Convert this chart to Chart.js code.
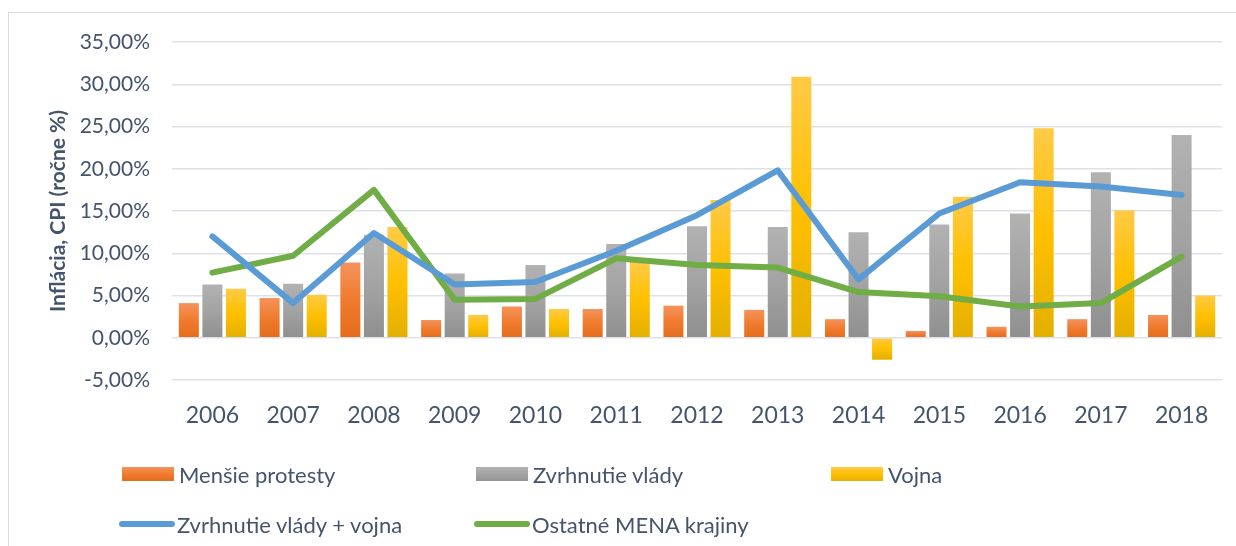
<!DOCTYPE html>
<html lang="sk">
<head>
<meta charset="utf-8">
<script src="https://cdn.jsdelivr.net/npm/chart.js@4.4.1/dist/chart.umd.min.js"></script>
<style>
    html, body { margin: 0; padding: 0; background: #fff; overflow: hidden; }
    body { width: 1236px; height: 546px; position: relative; font-family: Lato, "Open Sans", sans-serif; }
    .frame { position: absolute; left: 8px; top: 12px; width: 1260px; height: 560px; border: 1px solid #D9DDE3; box-sizing: border-box; }
    #chart { position: absolute; left: 0; top: 0; }
    .legend-item { position: absolute; display: flex; align-items: center; color: #44546A; font-size: 22px; white-space: nowrap; }
    .legend-box { width: 52px; height: 14px; margin-right: 5px; }
    .legend-line { width: 56px; height: 6px; border-radius: 3px; margin-right: 2px; }
</style>
</head>
<body>
<div class="frame"></div>
<canvas id="chart" width="1236" height="546"></canvas>
<div id="legend"></div>
<script>
// Inflation data (annual CPI %)
const years = ['2006', '2007', '2008', '2009', '2010', '2011', '2012', '2013', '2014', '2015', '2016', '2017', '2018'];
const mensieProtesty = [4.1, 4.7, 8.9, 2.1, 3.7, 3.4, 3.8, 3.3, 2.2, 0.8, 1.3, 2.2, 2.7];
const zvrhnutieVlady = [6.3, 6.4, 12.2, 7.6, 8.6, 11.1, 13.2, 13.1, 12.5, 13.4, 14.7, 19.6, 24.0];
const vojna = [5.8, 5.1, 13.1, 2.7, 3.4, 9.0, 16.3, 30.9, -2.6, 16.7, 24.8, 15.1, 5.0];
const zvrhnutieAVojna = [12.0, 4.1, 12.4, 6.3, 6.6, 10.3, 14.5, 19.8, 6.9, 14.7, 18.4, 17.9, 16.9];
const ostatneMena = [7.7, 9.7, 17.5, 4.5, 4.6, 9.4, 8.6, 8.3, 5.4, 4.9, 3.7, 4.1, 9.6];
const yTicks = [-5, 0, 5, 10, 15, 20, 25, 30, 35];

const textColor = '#44546A';
const fontFamily = 'Lato, "Open Sans", sans-serif';

// per-bar vertical gradient, like the Office fill
function barGradient(top, mid, bottom) {
    return (ctx) => {
        const chart = ctx.chart;
        const y = chart.scales && chart.scales.y;
        if (!y || !ctx.parsed || !chart.chartArea) return mid;
        const v = ctx.parsed.y;
        const y1 = y.getPixelForValue(Math.max(v, 0));
        const y2 = y.getPixelForValue(Math.min(v, 0));
        if (!isFinite(y1) || !isFinite(y2) || y1 === y2) return mid;
        const g = chart.ctx.createLinearGradient(0, y1, 0, y2);
        g.addColorStop(0, top);
        g.addColorStop(0.5, mid);
        g.addColorStop(1, bottom);
        return g;
    };
}

const legendStyles = [
    { cls: 'legend-box', css: 'linear-gradient(#F4935C, #F07B2E, #E46C1C)', left: 122, top: 475 },
    { cls: 'legend-box', css: 'linear-gradient(#B2B2B2, #A3A3A3, #939393)', left: 476, top: 475 },
    { cls: 'legend-box', css: 'linear-gradient(#FFCA47, #FFC000, #E6B000)', left: 831, top: 475 },
    { cls: 'legend-line', css: '#5B9BD5', left: 119, top: 525 },
    { cls: 'legend-line', css: '#70AD47', left: 474, top: 525 }
];

const barCommon = {
    type: 'bar',
    categoryPercentage: 0.875,
    barPercentage: 0.85,
    order: 2
};

const lineCommon = {
    type: 'line',
    borderWidth: 6,
    tension: 0,
    pointRadius: 0,
    pointHoverRadius: 0,
    borderCapStyle: 'round',
    borderJoinStyle: 'round',
    fill: false,
    order: 1
};

const chart = new Chart(document.getElementById('chart'), {
    data: {
        labels: years,
        datasets: [
            { ...barCommon, label: 'Menšie protesty', data: mensieProtesty,
              backgroundColor: barGradient('#F4935C', '#F07B2E', '#E46C1C') },
            { ...barCommon, label: 'Zvrhnutie vlády', data: zvrhnutieVlady,
              backgroundColor: barGradient('#B2B2B2', '#A3A3A3', '#8F8F8F') },
            { ...barCommon, label: 'Vojna', data: vojna,
              backgroundColor: barGradient('#FFCA47', '#FFC000', '#E3AF00') },
            { ...lineCommon, label: 'Zvrhnutie vlády + vojna', data: zvrhnutieAVojna,
              borderColor: '#5B9BD5', backgroundColor: '#5B9BD5' },
            { ...lineCommon, label: 'Ostatné MENA krajiny', data: ostatneMena,
              borderColor: '#70AD47', backgroundColor: '#70AD47' }
        ]
    },
    options: {
        responsive: false,
        animation: false,
        devicePixelRatio: 1,
        layout: {
            padding: { left: 0, top: 42, right: 14, bottom: 0 }
        },
        plugins: {
            legend: { display: false },
            tooltip: { enabled: false },
            title: { display: false }
        },
        scales: {
            x: {
                grid: { display: false, drawTicks: false },
                border: { display: false },
                ticks: {
                    color: textColor,
                    padding: 22,
                    font: { family: fontFamily, size: 23 }
                },
                afterFit: (scale) => { scale.height = 546 - 380; }
            },
            y: {
                min: -5,
                max: 35,
                afterBuildTicks: (scale) => {
                    scale.ticks = yTicks.map(v => ({ value: v }));
                },
                grid: {
                    color: '#DEE2E8',
                    lineWidth: 1.5,
                    drawTicks: false
                },
                border: { display: false },
                ticks: {
                    color: textColor,
                    padding: 22,
                    font: { family: fontFamily, size: 21 },
                    callback: (value) => value.toFixed(2).replace('.', ',') + '%'
                },
                title: {
                    display: true,
                    text: 'Inflácia, CPI (ročne %)',
                    color: textColor,
                    font: { family: fontFamily, size: 21, weight: 'bold' },
                    padding: { top: 46, bottom: 0 }
                },
                afterFit: (scale) => { scale.width = 172; }
            }
        }
    }
});

// HTML legend laid out in columns like the original
const legendEl = document.getElementById('legend');
chart.data.datasets.forEach((ds, i) => {
    const st = legendStyles[i];
    const item = document.createElement('div');
    item.className = 'legend-item';
    item.style.left = st.left + 'px';
    item.style.top = (st.top - 14) + 'px';
    item.style.height = '26px';
    const mark = document.createElement('span');
    mark.className = st.cls;
    mark.style.background = st.css;
    const txt = document.createElement('span');
    txt.textContent = ds.label;
    item.appendChild(mark);
    item.appendChild(txt);
    legendEl.appendChild(item);
});
</script>
</body>
</html>
